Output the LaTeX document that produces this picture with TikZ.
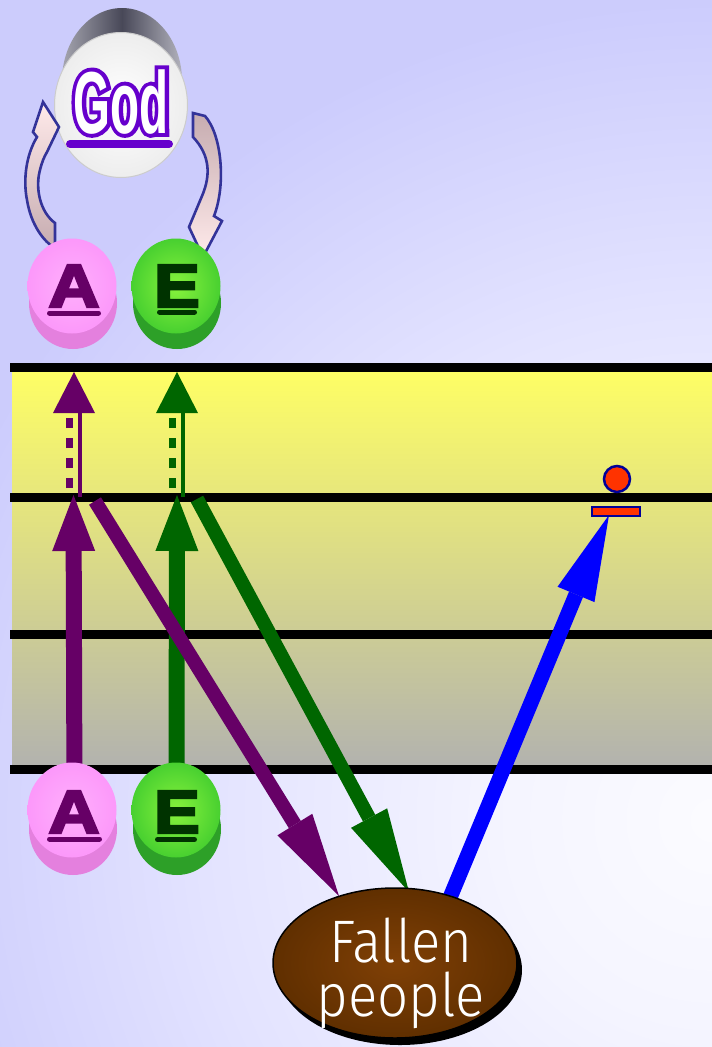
\documentclass[tikz,border=0pt]{standalone}
\usepackage{fontspec}
\setmainfont{Liberation Sans}
\newfontfamily\lightfont{Fira Sans Light}[FakeStretch=0.91]
\newfontfamily\godoutline{Liberation Sans Bold}[FakeStretch=0.54, FakeBold=9]
\newfontfamily\godfill{Liberation Sans Bold}[FakeStretch=0.54]
\newfontfamily\heavyfont{Liberation Sans Bold}[FakeBold=4]
\usetikzlibrary{arrows.meta,shapes.geometric,calc}
\pgfdeclareradialshading{bgshade}{\pgfpoint{0bp}{0bp}}{%
  rgb(0bp)=(0.985,0.985,1); rgb(6bp)=(0.96,0.96,1); rgb(15bp)=(0.89,0.89,1);
  rgb(24bp)=(0.8,0.8,0.99); rgb(50bp)=(0.8,0.8,0.99)}
\definecolor{purp}{RGB}{102,0,102}
\definecolor{dgreen}{RGB}{0,102,0}
\definecolor{godpurple}{RGB}{102,0,204}
\definecolor{apink}{RGB}{252,152,250}
\definecolor{apinkin}{RGB}{255,175,252}
\definecolor{apinkside}{RGB}{228,128,222}
\definecolor{egreen}{RGB}{72,208,48}
\definecolor{egreenin}{RGB}{135,242,60}
\definecolor{egreenside}{RGB}{45,160,40}
\definecolor{aletter}{RGB}{102,0,102}
\definecolor{eletter}{RGB}{0,51,0}
\definecolor{navy}{RGB}{51,51,153}
\definecolor{redo}{RGB}{255,51,0}
\definecolor{dotnavy}{RGB}{0,0,153}
\definecolor{brownin}{RGB}{128,64,6}
\definecolor{brownout}{RGB}{96,47,0}
\definecolor{bandtop}{RGB}{255,255,100}
\definecolor{bandbot}{RGB}{178,178,175}
\definecolor{bluea}{RGB}{0,0,255}
\definecolor{arrlight}{RGB}{255,234,234}
\definecolor{arrdark}{RGB}{198,172,176}
\definecolor{cylL}{RGB}{165,165,175}
\definecolor{cylM}{RGB}{72,72,88}
\definecolor{cylR}{RGB}{178,178,188}
\begin{document}
\begin{tikzpicture}[x=1pt,y=-1pt,
  pill/.style={ellipse, inner sep=0pt, minimum width=89pt, minimum height=95pt},
  pillside/.style={ellipse, inner sep=0pt, minimum width=88pt, minimum height=92pt},
  letter/.style={inner sep=0pt, anchor=base, font=\heavyfont\fontsize{61}{61}\selectfont},
  godtext/.style={inner sep=0pt, anchor=base},
  fallentext/.style={inner sep=0pt, text=white, align=center, font=\lightfont\fontsize{60}{54}\selectfont},
  band/.style={line width=9pt, black},
  bigarrow/.style={line width=16pt},
  diagarrow/.style={line width=14pt, -{Triangle[length=84pt,width=41pt,line width=0pt]}},
  curvedarrow/.style={draw=navy, line width=2.6pt, line join=miter}
]
\useasboundingbox (0,0) rectangle (712,1047);
% background
\begin{scope}
  \clip (0,0) rectangle (712,1047);
  \node[inner sep=0pt] (bgnode) at (712,820) {\scalebox{34}{\pgfuseshading{bgshade}}};
\end{scope}
% bands
\shade[top color=bandtop, bottom color=bandbot] (12,367) rectangle (712,769);
\foreach \yy in {367,497,634,769} \draw[band] (10,\yy) -- (712,\yy);

% God disk
\node[ellipse, inner sep=0pt, minimum width=120pt, minimum height=146pt,
  left color=cylL, right color=cylR, middle color=cylM] (godback) at (122,81) {};
\node[ellipse, inner sep=0pt, minimum width=133pt, minimum height=145pt,
  inner color=white, outer color=black!7!white, draw=black!20!white, line width=1pt] (god) at (121,105) {};
\coordinate (godbase) at (121,133);
\node[godtext, text=godpurple, font=\godoutline\fontsize{88}{88}\selectfont] (godo) at (godbase) {God};
\node[godtext, text=white, font=\godfill\fontsize{88}{88}\selectfont] (godlabel) at (godbase) {God};
\coordinate (gu1) at (70,144); \coordinate (gu2) at (169,144);
\draw[godpurple, line width=8pt, line cap=round] (gu1) -- (gu2);

% curved arrows
\path[curvedarrow, top color=arrlight, bottom color=arrdark]
  (55,248) -- (55,223) .. controls (40,212) and (35,188) .. (40,170)
  .. controls (42,162) and (44,157) .. (47,152) -- (59,127) -- (43,102)
  -- (33,132) -- (37,137)
  .. controls (26,155) and (23,180) .. (27,200)
  .. controls (31,225) and (44,242) .. (55,248) -- cycle;
\path[curvedarrow, top color=arrdark, bottom color=arrlight]
  (193,113) -- (205,116) .. controls (222,135) and (226,185) .. (214,216)
  -- (222,221) -- (203,257) -- (189,227) -- (202,196)
  .. controls (211,175) and (210,155) .. (193,137) -- cycle;

% top A and E
\node[pillside, fill=apinkside] (Atopside) at (73,303) {};
\node[pill, inner color=apinkin, outer color=apink] (Atop) at (72,286) {};
\node[pillside, fill=egreenside] (Etopside) at (177,303) {};
\node[pill, inner color=egreenin, outer color=egreen] (Etop) at (176,286) {};

% dotted upward arrows (top band)
\coordinate (pdl0) at (80,497); \coordinate (pdl1) at (80,410);
\coordinate (pdd0) at (69.5,488); \coordinate (pdd1) at (69.5,418);
\coordinate (pht) at (74,372); \coordinate (phl) at (53,413); \coordinate (phr) at (95,413);
\draw[purp, line width=4pt] (pdl0) -- (pdl1);
\draw[purp, line width=7pt, dash pattern=on 10pt off 10pt] (pdd0) -- (pdd1);
\fill[purp] (pht) -- (phr) -- (phl) -- cycle;
\coordinate (gdl0) at (182.5,497); \coordinate (gdl1) at (182.5,410);
\coordinate (gdd0) at (172.5,488); \coordinate (gdd1) at (172.5,418);
\coordinate (ght) at (177,372); \coordinate (ghl) at (156,413); \coordinate (ghr) at (198,413);
\draw[dgreen, line width=4pt] (gdl0) -- (gdl1);
\draw[dgreen, line width=7pt, dash pattern=on 10pt off 10pt] (gdd0) -- (gdd1);
\fill[dgreen] (ght) -- (ghr) -- (ghl) -- cycle;

% bottom vertical arrows
\coordinate (pv0) at (74.5,800); \coordinate (pv1) at (73.5,495);
\coordinate (gv0) at (176.5,800); \coordinate (gv1) at (177,495);
\draw[purp, bigarrow, -{Triangle[length=56pt,width=43pt,line width=0pt]}] (pv0) -- (pv1);
\draw[dgreen, bigarrow, -{Triangle[length=56pt,width=43pt,line width=0pt]}] (gv0) -- (gv1);

% diagonal arrows
\coordinate (pd0) at (95,501); \coordinate (pd1) at (339,896);
\coordinate (gd0) at (197,499); \coordinate (gd1) at (409,892);
\coordinate (bd0) at (449,900); \coordinate (bd1) at (609,515);
\draw[purp, diagarrow] (pd0) -- (pd1);
\draw[dgreen, diagarrow] (gd0) -- (gd1);
\draw[bluea, line width=15pt, -{Triangle[length=86pt,width=40pt,line width=0pt]}] (bd0) -- (bd1);

% red dot and bar
\node[circle, inner sep=0pt, minimum size=26pt, fill=redo, draw=dotnavy, line width=2.5pt] (dot) at (617,479) {};
\node[rectangle, inner sep=0pt, minimum width=48pt, minimum height=9pt, fill=redo, draw=dotnavy, line width=2pt] (bar) at (616,511.5) {};

% bottom A and E
\node[pillside, fill=apinkside] (Abotside) at (73,829) {};
\node[pill, inner color=apinkin, outer color=apink] (Abot) at (72,810) {};
\node[pillside, fill=egreenside] (Ebotside) at (177,829) {};
\node[pill, inner color=egreenin, outer color=egreen] (Ebot) at (176,810) {};

% letters
\node[letter, text=aletter] (Atl) at (74,307) {\scalebox{1.16}[1]{A}};
\node[letter, text=eletter] (Etl) at (177,307) {\scalebox{1.12}[1]{E}};
\node[letter, text=aletter] (Abl) at (74,833) {\scalebox{1.16}[1]{A}};
\node[letter, text=eletter] (Ebl) at (177,833) {\scalebox{1.12}[1]{E}};
\coordinate (au1) at (49.5,313); \coordinate (au2) at (98.5,313);
\coordinate (eu1) at (159.5,312); \coordinate (eu2) at (194.5,312);
\coordinate (abu1) at (49.5,839); \coordinate (abu2) at (99.5,839);
\coordinate (ebu1) at (157.5,839.5); \coordinate (ebu2) at (194.5,839.5);
\draw[aletter, line width=5pt, line cap=round] (au1) -- (au2);
\draw[eletter, line width=5pt, line cap=round] (eu1) -- (eu2);
\draw[aletter, line width=5pt, line cap=round] (abu1) -- (abu2);
\draw[eletter, line width=5pt, line cap=round] (ebu1) -- (ebu2);

% Fallen people
\node[ellipse, inner sep=0pt, minimum width=244pt, minimum height=150pt, fill=black] (fallshadow) at (400,970) {};
\node[ellipse, inner sep=0pt, minimum width=244pt, minimum height=150pt,
  inner color=brownin, outer color=brownout, draw=black, line width=1.5pt] (fallen) at (395,963) {};
\node[fallentext] (fl) at (401,973) {Fallen\\people};
\end{tikzpicture}
\end{document}
